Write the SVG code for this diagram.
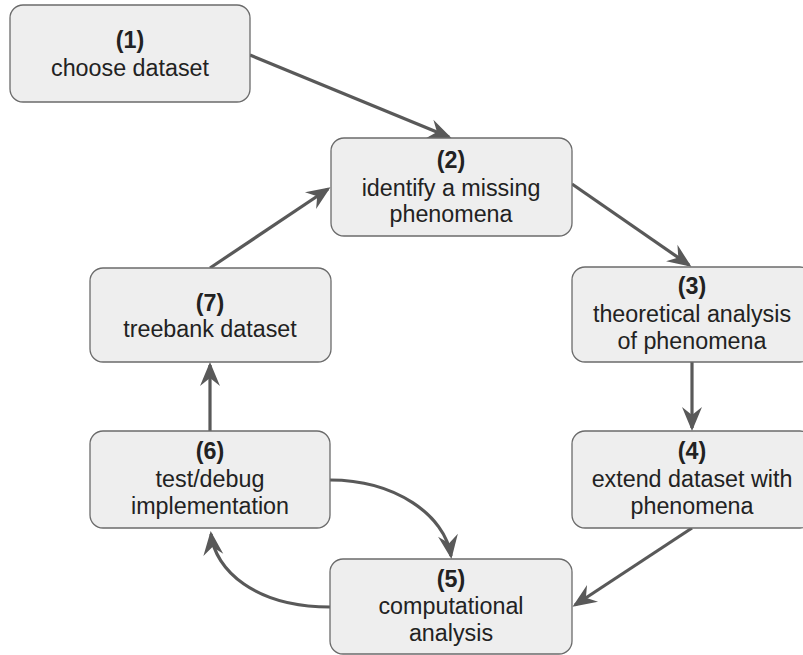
<svg xmlns="http://www.w3.org/2000/svg" width="803" height="655" viewBox="0 0 803 655">
  <defs>
    <style>
      .box { fill: #eeeeee; stroke: #6b6b6b; stroke-width: 1.3; }
      .lbl { font-family: "Liberation Sans", Arial, sans-serif; font-size: 23.3px; fill: #222222; text-anchor: middle; }
      .num { font-weight: bold; }
      .edge { fill: none; stroke: #595959; stroke-width: 3.2; marker-end: url(#head); }
    </style>
    <marker id="head" viewBox="-27 -12 30 24" refX="-3" refY="0" markerWidth="30" markerHeight="24" markerUnits="userSpaceOnUse" orient="auto">
      <path d="M0,0 L-24,-10 L-16,0 L-24,10 Z" fill="#595959"/>
    </marker>
  </defs>

  <rect width="803" height="655" fill="#ffffff"/>

  <!-- connectors -->
  <g id="connectors">
    <path class="edge" d="M250,55 L449,137"/>
    <path class="edge" d="M572,184 L689,265"/>
    <path class="edge" d="M692,362 L692,428"/>
    <path class="edge" d="M692,528 L575,605"/>
    <path class="edge" d="M330,607 C255,607 215,570 211,534"/>
    <path class="edge" d="M330,480 C395,480 445,515 451,556"/>
    <path class="edge" d="M210,431 L210,365"/>
    <path class="edge" d="M210,268 L328,189"/>
  </g>

  <!-- nodes -->
  <g id="n1">
    <rect class="box" x="10" y="5" width="240" height="97" rx="13"/>
    <text class="lbl num" x="130" y="48">(1)</text>
    <text class="lbl" x="130" y="76">choose dataset</text>
  </g>
  <g id="n2">
    <rect class="box" x="331" y="138" width="241" height="98" rx="13"/>
    <text class="lbl num" x="451" y="168">(2)</text>
    <text class="lbl" x="451" y="196">identify a missing</text>
    <text class="lbl" x="451" y="222">phenomena</text>
  </g>
  <g id="n3">
    <rect class="box" x="572" y="267" width="241" height="95" rx="13"/>
    <text class="lbl num" x="692" y="294">(3)</text>
    <text class="lbl" x="692" y="322">theoretical analysis</text>
    <text class="lbl" x="692" y="349">of phenomena</text>
  </g>
  <g id="n4">
    <rect class="box" x="572" y="431" width="241" height="97" rx="13"/>
    <text class="lbl num" x="692" y="459">(4)</text>
    <text class="lbl" x="692" y="487">extend dataset with</text>
    <text class="lbl" x="692" y="514">phenomena</text>
  </g>
  <g id="n5">
    <rect class="box" x="330" y="559" width="242" height="95" rx="13"/>
    <text class="lbl num" x="451" y="587">(5)</text>
    <text class="lbl" x="451" y="614">computational</text>
    <text class="lbl" x="451" y="641">analysis</text>
  </g>
  <g id="n6">
    <rect class="box" x="90" y="431" width="240" height="97" rx="13"/>
    <text class="lbl num" x="210" y="459">(6)</text>
    <text class="lbl" x="210" y="487">test/debug</text>
    <text class="lbl" x="210" y="514">implementation</text>
  </g>
  <g id="n7">
    <rect class="box" x="90" y="268" width="241" height="94" rx="13"/>
    <text class="lbl num" x="210" y="311">(7)</text>
    <text class="lbl" x="210" y="337">treebank dataset</text>
  </g>
</svg>
